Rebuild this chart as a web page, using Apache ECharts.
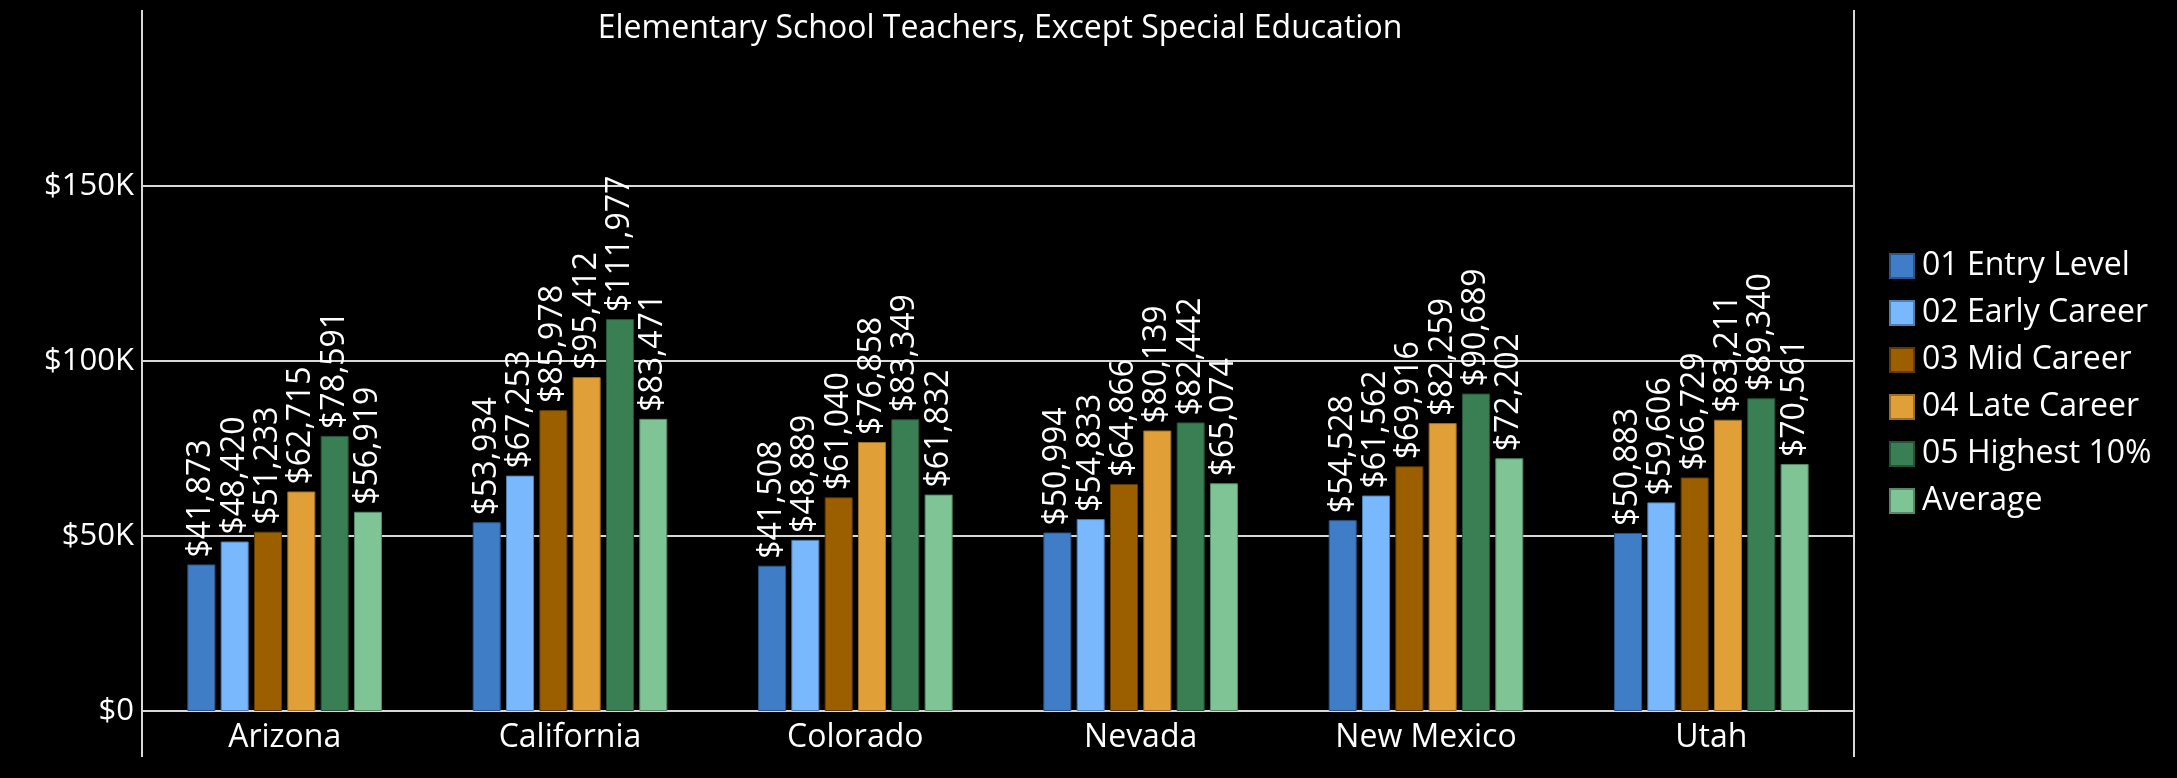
<!DOCTYPE html>
<html>
<head>
<meta charset="utf-8">
<style>
html,body{margin:0;padding:0;background:#000;}
#chart{width:2177px;height:778px;}
</style>
<script src="https://cdn.jsdelivr.net/npm/echarts@6/dist/echarts.min.js"></script>
</head>
<body>
<div id="chart"></div>
<script>
const title = 'Elementary School Teachers, Except Special Education';
const categories = ['Arizona', 'California', 'Colorado', 'Nevada', 'New Mexico', 'Utah'];
const seriesNames = ['01 Entry Level', '02 Early Career', '03 Mid Career', '04 Late Career', '05 Highest 10%', 'Average'];
const entryLevel = [41873, 53934, 41508, 50994, 54528, 50883];
const earlyCareer = [48420, 67253, 48889, 54833, 61562, 59606];
const midCareer = [51233, 85978, 61040, 64866, 69916, 66729];
const lateCareer = [62715, 95412, 76858, 80139, 82259, 83211];
const highest10 = [78591, 111977, 83349, 82442, 90689, 89340];
const average = [56919, 83471, 61832, 65074, 72202, 70561];
const yTicks = [0, 50000, 100000, 150000];

const seriesData = [entryLevel, earlyCareer, midCareer, lateCareer, highest10, average];
const colors = ['#3f7dc6', '#79b8fc', '#9b5f00', '#e09f37', '#3a7f53', '#7ec495'];
const borders = ['#2a5589', '#4f7fae', '#5e3a00', '#9c6e26', '#24533a', '#55876a'];

const FONT = '"Open Sans", "Noto Sans", sans-serif';
const FS = 32;

const chart = echarts.init(document.getElementById('chart'), null, {renderer: 'canvas'});

const L = 142, R = 1854, TOP = 11, ZERO = 711;

const option = {
  backgroundColor: '#000',
  animation: false,
  title: {
    text: title,
    left: (L + R) / 2 - 3,
    textAlign: 'center',
    top: 8,
    textStyle: {color: '#fff', fontFamily: FONT, fontSize: 32, fontWeight: 'normal'}
  },
  legend: {
    orient: 'vertical',
    left: 1884,
    top: 245,
    itemWidth: 24,
    itemHeight: 24,
    itemGap: 15,
    icon: 'rect',
    textStyle: {color: '#fff', fontFamily: FONT, fontSize: FS, padding: [0, 0, 0, 3]},
    data: seriesNames
  },
  grid: {left: L, right: 2177 - R, top: TOP, bottom: 778 - ZERO, containLabel: false},
  xAxis: {
    type: 'category',
    data: categories,
    axisLine: {show: false},
    axisTick: {show: false},
    axisLabel: {color: '#fff', fontFamily: FONT, fontSize: FS, margin: 11}
  },
  yAxis: {
    type: 'value',
    min: 0,
    max: 200000,
    interval: 50000,
    axisLine: {show: false},
    axisTick: {show: false},
    axisLabel: {
      color: '#fff', fontFamily: FONT, fontSize: 31, margin: 8, showMaxLabel: false,
      formatter: v => yTicks.includes(v) ? (v === 0 ? '$0' : '$' + (v / 1000) + 'K') : ''
    },
    splitLine: {show: true, showMinLine: true, showMaxLine: false, lineStyle: {color: '#d8d8d8', width: 2}}
  },
  graphic: [
    {type: 'line', shape: {x1: L, y1: 10, x2: L, y2: 757}, style: {stroke: '#d8d8d8', lineWidth: 2}, z: 10},
    {type: 'line', shape: {x1: R, y1: 10, x2: R, y2: 757}, style: {stroke: '#d8d8d8', lineWidth: 2}, z: 10}
  ],
  series: seriesNames.map((name, i) => ({
    name: name,
    type: 'bar',
    data: seriesData[i],
    barWidth: 28,
    barGap: '19%',
    itemStyle: {color: colors[i], borderColor: borders[i], borderWidth: 1},
    label: {
      show: true,
      position: 'top',
      rotate: 90,
      align: 'left',
      verticalAlign: 'middle',
      distance: 7,
      color: '#fff',
      fontFamily: FONT,
      fontSize: FS,
      formatter: p => '$' + p.value.toLocaleString('en-US')
    }
  }))
};
chart.setOption(option);
</script>
</body>
</html>
